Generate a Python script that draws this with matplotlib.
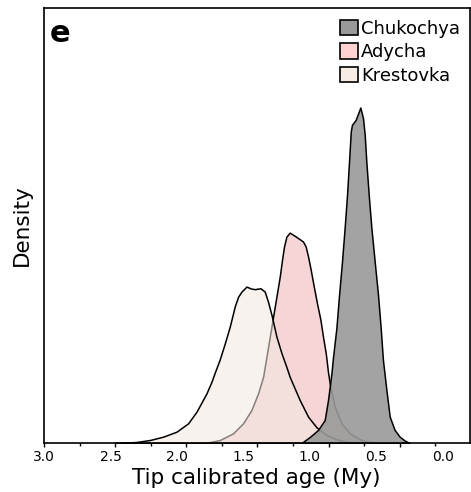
import numpy as np
import matplotlib
matplotlib.use("Agg")
import matplotlib.pyplot as plt
from matplotlib.patches import Patch

# density curves (age in My, density)
chuk_age = [1.064, 1.001, 0.939, 0.889, 0.864, 0.851, 0.838, 0.826, 0.801, 0.781,
            0.759, 0.739, 0.721, 0.706, 0.693, 0.684, 0.656, 0.621, 0.601, 0.588,
            0.576, 0.558, 0.538, 0.513, 0.488, 0.468, 0.451, 0.425, 0.400, 0.363,
            0.325, 0.288, 0.250]
chuk_dens = [0.0, 0.065, 0.14, 0.247, 0.462, 0.605, 0.753, 0.928, 1.237, 1.591,
             1.949, 2.312, 2.667, 3.025, 3.347, 3.419, 3.473, 3.605, 3.491, 3.312,
             3.025, 2.667, 2.312, 1.949, 1.591, 1.237, 0.892, 0.570, 0.283, 0.14,
             0.068, 0.027, 0.0]

ady_age = [1.828, 1.778, 1.678, 1.578, 1.503, 1.440, 1.390, 1.352, 1.327, 1.302,
           1.277, 1.252, 1.227, 1.210, 1.195, 1.177, 1.152, 1.114, 1.077, 1.052,
           1.032, 1.014, 0.994, 0.971, 0.947, 0.921, 0.902, 0.881, 0.864, 0.851,
           0.814, 0.763, 0.701, 0.626, 0.563, 0.500]
ady_dens = [0.0, 0.003, 0.032, 0.104, 0.212, 0.355, 0.534, 0.713, 0.928, 1.143,
            1.358, 1.573, 1.788, 1.968, 2.111, 2.218, 2.261, 2.226, 2.190, 2.165,
            2.111, 2.003, 1.860, 1.681, 1.502, 1.323, 1.143, 0.965, 0.760, 0.640,
            0.390, 0.212, 0.104, 0.040, 0.014, 0.0]

kres_age = [2.467, 2.404, 2.304, 2.204, 2.104, 2.003, 1.916, 1.853, 1.778, 1.740,
            1.715, 1.678, 1.640, 1.603, 1.565, 1.540, 1.515, 1.477, 1.445, 1.415,
            1.372, 1.340, 1.315, 1.289, 1.252, 1.214, 1.177, 1.152, 1.077, 1.014,
            0.951, 0.876, 0.801, 0.726, 0.651]
kres_dens = [0.0, 0.003, 0.011, 0.032, 0.068, 0.122, 0.212, 0.337, 0.534, 0.660,
             0.760, 0.900, 1.072, 1.251, 1.470, 1.573, 1.627, 1.681, 1.661, 1.653,
             1.663, 1.627, 1.516, 1.376, 1.143, 0.965, 0.817, 0.710, 0.462, 0.283,
             0.169, 0.086, 0.040, 0.014, 0.0]

names = ["Chukochya", "Adycha", "Krestovka"]
legend_colors = ["#999999", "#ffd2d2", "#f8ede4"]
age_labels = [3.0, 2.5, 2.0, 1.5, 1.0, 0.5, 0.0]


fig = plt.figure(figsize=(4.71, 4.92), dpi=100)
ax = fig.add_axes([44 / 471, 1 - 443 / 492, 425.5 / 471, 435.5 / 492])

# bottom layer first, so the lower outlines show through the upper fills
ax.fill_between(ady_age, ady_dens, facecolor=(245/255, 213/255, 213/255, 1.0),
                edgecolor="black", linewidth=1.1, joinstyle="round")
ax.fill_between(kres_age, kres_dens, facecolor=(242/255, 233/255, 224/255, 0.55),
                edgecolor="black", linewidth=1.1, joinstyle="round")
ax.fill_between(chuk_age, chuk_dens, facecolor=(153/255, 153/255, 153/255, 0.9),
                edgecolor="black", linewidth=1.1, joinstyle="round")

ax.set_xlim(3.0, -0.2)
ax.set_ylim(0, 4.68)
ax.set_yticks([])

# tick marks (they do not line up with the labels in the original)
ax.set_xticks(3.0 - 0.535 * np.arange(6))
ax.set_xticks(3.0 - 0.2675 * (2 * np.arange(6) + 1), minor=True)
ax.tick_params(axis="x", which="major", length=3.2, width=1.0, labelbottom=False)
ax.tick_params(axis="x", which="minor", length=1.8, width=1.0)
for s in ax.spines.values():
    s.set_linewidth(1.2)

sec = ax.secondary_xaxis("bottom")
sec.set_xticks(age_labels)
sec.set_xticklabels([f"{v:.1f}" for v in age_labels])
sec.tick_params(length=0, pad=5, labelsize=10)
sec.spines["bottom"].set_visible(False)
sec.set_xlabel("Tip calibrated age (My)", fontsize=15.5, labelpad=3)

ax.set_ylabel("Density", fontsize=15.5, labelpad=9)

ax.text(0.014, 0.974, "e", transform=ax.transAxes, fontsize=22,
        fontweight="bold", va="top", ha="left")

handles = [Patch(facecolor=c, edgecolor="black", linewidth=1.2) for c in legend_colors]
ax.legend(handles, names, loc="upper right", bbox_to_anchor=(0.978, 0.972),
          frameon=False, borderpad=0, borderaxespad=0, handlelength=0.95,
          handleheight=0.95, handletextpad=0.2, labelspacing=0.3, fontsize=13)

fig.savefig("out.png", dpi=100)
